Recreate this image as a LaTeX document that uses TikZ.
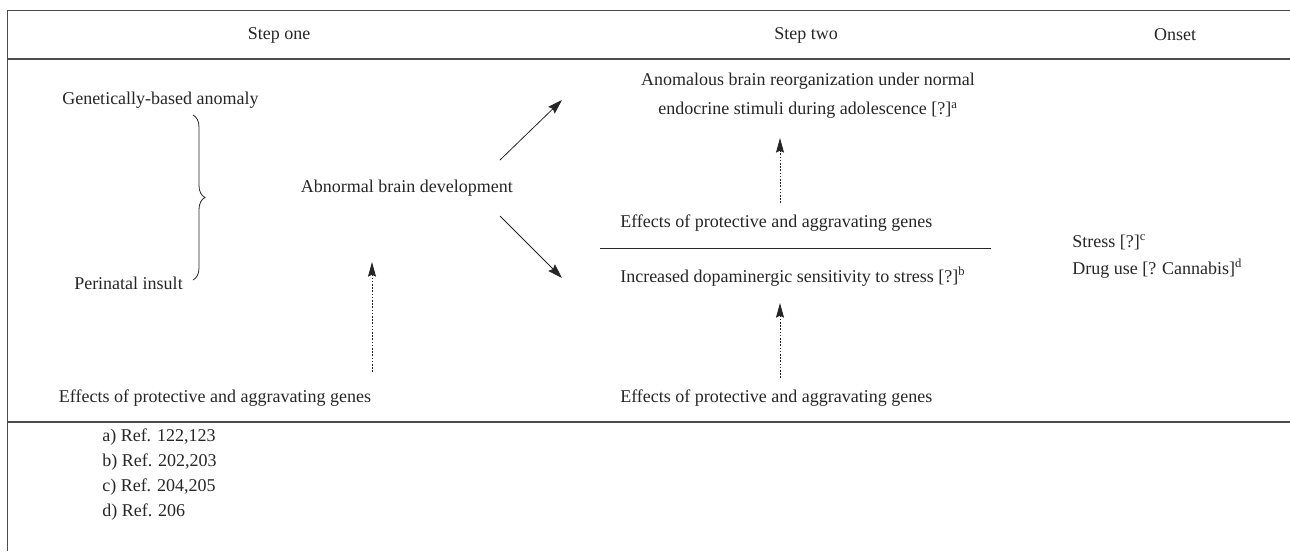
\documentclass[tikz,border=0pt]{standalone}
\usepackage{fontspec}
\setmainfont{Liberation Serif}
\usetikzlibrary{arrows.meta,decorations.pathreplacing}
\begin{document}
\begin{tikzpicture}[x=0.75pt,y=-0.75pt,
  txt/.style={inner sep=0pt,font=\fontsize{13.5}{16}\selectfont,text=black!85},
  rule/.style={draw=black!70,line width=1.2pt},
  arr/.style={draw=black!85,line width=0.6pt,-{Stealth[length=11pt,width=7pt,inset=1.5pt]}},
  dotarr/.style={draw=black!85,line width=0.6pt,dash pattern=on 1.2pt off 1.2pt,-{Stealth[length=11pt,width=6pt,inset=1.5pt]}}]
\useasboundingbox (0,0) rectangle (1290,551);
% table rules
\draw[rule] (7.5,551) -- (7.5,10.5) -- (1290,10.5);
\draw[rule] (7.5,59) -- (1290,59);
\draw[rule] (7.5,422) -- (1290,422);
% headers
\node[txt] (h1) at (279,35) {Step one};
\node[txt] (h2) at (806,35) {Step two};
\node[txt] (h3) at (1175,35) {Onset};
% step one
\node[txt,anchor=west] (gen) at (62,100) {Genetically-based anomaly};
\node[txt,anchor=east] (peri) at (183,283) {Perinatal insult};
\node[txt,anchor=east] (abn) at (513,188) {Abnormal brain development};
\node[txt] (eff1) at (215,398) {Effects of protective and aggravating genes};
\draw[draw=black!85,line width=0.6pt,decorate,decoration={brace,amplitude=9pt}] (193,115) -- (193,280);
% step two
\node[txt,align=center] (anom) at (808,96) {Anomalous brain reorganization under normal\\[6pt] endocrine stimuli during adolescence [?]\textsuperscript{a}};
\node[txt,anchor=west] (eff2) at (620,223) {Effects of protective and aggravating genes};
\node[txt,anchor=west] (inc) at (620,277) {Increased dopaminergic sensitivity to stress [?]\textsuperscript{b}};
\node[txt,anchor=west] (eff3) at (620,398) {Effects of protective and aggravating genes};
\coordinate (ls) at (600,248);
\coordinate (le) at (991,248);
\draw[draw=black!85,line width=0.6pt] (ls) -- (le);
% onset
\node[txt,anchor=west] (stress) at (1072,242) {Stress [?]\textsuperscript{c}};
\node[txt,anchor=west] (drug) at (1072,269) {Drug use [? Cannabis]\textsuperscript{d}};
% refs
\node[txt,anchor=west] (ra) at (102,437) {a) Ref. 122,123};
\node[txt,anchor=west] (rb) at (102,462) {b) Ref. 202,203};
\node[txt,anchor=west] (rc) at (102,487) {c) Ref. 204,205};
\node[txt,anchor=west] (rd) at (102,512) {d) Ref. 206};
% arrows
\coordinate (a1s) at (500,160);
\coordinate (a1e) at (562,100);
\coordinate (a2s) at (500,216);
\coordinate (a2e) at (562,278);
\draw[arr] (a1s) -- (a1e);
\draw[arr] (a2s) -- (a2e);
\coordinate (d1s) at (372,372);
\coordinate (d1e) at (372,262);
\draw[dotarr] (d1s) -- (d1e);
\coordinate (d2s) at (780,203);
\coordinate (d2e) at (780,138);
\draw[dotarr] (d2s) -- (d2e);
\coordinate (d3s) at (780,378);
\coordinate (d3e) at (780,303);
\draw[dotarr] (d3s) -- (d3e);
\end{tikzpicture}
\end{document}
